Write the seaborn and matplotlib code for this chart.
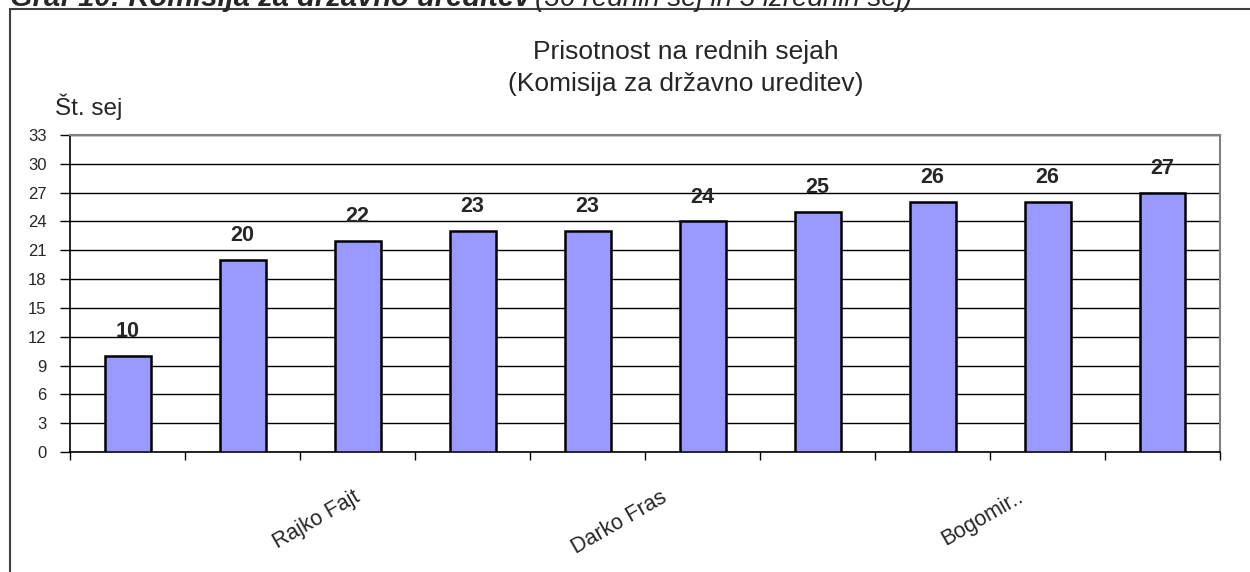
import matplotlib
matplotlib.use("Agg")
import matplotlib.pyplot as plt
import matplotlib.transforms as mtransforms
from matplotlib.patches import Rectangle
import pandas as pd
import seaborn as sns

# ── Data ──────────────────────────────────────────────────────────────────────
MEMBERS = ["", "", "Rajko Fajt", "", "", "Darko Fras", "", "", "Bogomir..", ""]
SESSIONS = [10, 20, 22, 23, 23, 24, 25, 26, 26, 27]
Y_TICKS = list(range(0, 34, 3))

TITLE = "Prisotnost na rednih sejah\n(Komisija za državno ureditev)"
Y_LABEL = "Št. sej"
HEADER_BOLD = "Graf 10: Komisija za državno ureditev"
HEADER_ITALIC = "(36 rednih sej in 3 izrednih sej)"

# ── Style ─────────────────────────────────────────────────────────────────────
BAR_CLR = "#9999ff"
GRID_CLR = "#000000"
BORDER_CLR = "#808080"

sns.set_theme(style="white")
plt.rcParams["font.family"] = ["Liberation Sans", "DejaVu Sans"]

W, H = 1250, 572
fig = plt.figure(figsize=(W / 100, H / 100), dpi=100)
fig.patch.set_facecolor("white")

# outer chart frame (runs off the right and bottom edges)
fig.patches.append(Rectangle((10 / W, -0.1), 1.2, 1 - 9 / H + 0.1,
                             transform=fig.transFigure, fill=False,
                             edgecolor="#404040", linewidth=1.5))

# document caption, cropped at the very top like in the source
fig.text(10 / W, 1 - 6 / H, HEADER_BOLD, fontsize=21, fontweight="bold",
         fontstyle="italic", va="baseline", ha="left")
fig.text(535 / W, 1 - 6 / H, HEADER_ITALIC, fontsize=20,
         fontstyle="italic", va="baseline", ha="left")

ax = fig.add_axes([70 / W, 1 - 452 / H, 1150 / W, 317 / H])
ax.set_facecolor("white")

df = pd.DataFrame({"member": [f"m{i}" for i in range(len(SESSIONS))],
                   "sessions": SESSIONS})
sns.barplot(data=df, x="member", y="sessions", color=BAR_CLR,
            saturation=1, width=0.4, edgecolor="black", linewidth=1.8, ax=ax)

for bar in ax.patches:
    bar.set_zorder(3)

ax.bar_label(ax.containers[0], fontsize=15.5, fontweight="bold", padding=10)

ax.set_ylim(0, 33)
ax.set_xlim(-0.5, len(SESSIONS) - 0.5)
ax.set_yticks(Y_TICKS)
ax.set_yticklabels([str(t) for t in Y_TICKS], fontsize=12)
ax.yaxis.grid(True, color=GRID_CLR, linewidth=1)
ax.set_axisbelow(True)

# category boundary ticks, labels on category centres
ax.set_xticks([i - 0.5 for i in range(len(SESSIONS) + 1)])
ax.set_xticklabels([])
ax.set_xticks(range(len(SESSIONS)), minor=True)
ax.set_xticklabels(MEMBERS, minor=True, rotation=30, ha="right",
                   va="top", rotation_mode="anchor", fontsize=15.5)
ax.tick_params(axis="x", which="major", direction="out", length=6,
               color="black", width=1, bottom=True)
ax.tick_params(axis="x", which="minor", length=0, pad=25)
ax.tick_params(axis="y", direction="out", length=7, color="black",
               width=1, left=True, pad=10)

# nudge individual labels to where they sit in the original
shifts = {"Rajko Fajt": -4, "Darko Fras": -42, "Bogomir..": -31}
for lbl in ax.get_xticklabels(minor=True):
    dx = shifts.get(lbl.get_text(), 0)
    if dx:
        lbl.set_transform(lbl.get_transform() +
                          mtransforms.ScaledTranslation(dx / 100, 0, fig.dpi_scale_trans))

ax.set_xlabel("")
ax.set_ylabel("")
for side in ["left", "bottom"]:
    ax.spines[side].set_color("black")
    ax.spines[side].set_linewidth(1.2)
for side in ["top", "right"]:
    ax.spines[side].set_visible(True)
    ax.spines[side].set_color(BORDER_CLR)
    ax.spines[side].set_linewidth(1.5)

fig.text(686 / W, 1 - 68 / H, TITLE, fontsize=19, ha="center", va="center",
         linespacing=1.4)
fig.text(55 / W, 1 - 107 / H, Y_LABEL, fontsize=17.5, ha="left", va="center")

fig.savefig("out.png", dpi=100, facecolor="white")
